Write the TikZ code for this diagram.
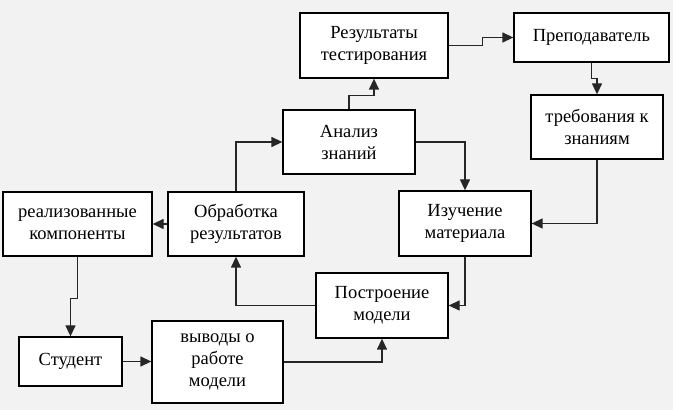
\documentclass[tikz,border=0pt]{standalone}
\usepackage{fontspec}
\setmainfont{Liberation Serif}
\usetikzlibrary{arrows.meta}

\begin{document}
\begin{tikzpicture}[scale=1.000000,x=1pt,y=1pt,
  box/.style={draw=black,fill=white,line width=1.3pt,align=center,inner sep=0pt,
    font=\fontsize{18.5}{22}\selectfont},
  flow/.style={draw=black!85,line width=1.3pt,-{Triangle[length=11pt,width=10pt]}}]
\fill[color=black!5] (0.000000,0.000000) rectangle (673.000000,410.000000);
% Drawing boxes
% Box 1: top row
\node[box,minimum width=148,minimum height=65] (res) at (374.000000,364.500000) {Результаты\\тестирования};
\node[box,minimum width=155,minimum height=49] (prep) at (591.500000,372.500000) {Преподаватель};
% Box 2: knowledge requirements and analysis
\node[box,minimum width=132,minimum height=64] (treb) at (597.000000,283.000000) {требования к\\знаниям};
\node[box,minimum width=132,minimum height=64] (anal) at (349.000000,268.000000) {Анализ\\знаний};
% Box 3: middle row
\node[box,minimum width=132,minimum height=65] (izuch) at (465.000000,186.500000) {Изучение\\материала};
\node[box,minimum width=136,minimum height=64] (obr) at (236.000000,186.000000) {Обработка\\результатов};
\node[box,minimum width=149,minimum height=64] (real) at (77.500000,186.000000) {реализованные\\компоненты};
% Box 4: bottom row
\node[box,minimum width=132,minimum height=65] (postr) at (382.000000,104.500000) {Построение\\модели};
\node[box,minimum width=103,minimum height=49] (stud) at (70.500000,48.500000) {Студент};
\node[box,minimum width=131,minimum height=82] (vyv) at (217.500000,48.000000) {выводы о\\работе\\модели};
% Done with boxes; drawing arrows
\draw[flow] (anal.north) -- ++(0.000000,14.000000) -| (res.south);
\draw[flow] (res.east) -- ++(34.000000,0.000000) |- (prep.west);
\draw[flow] (prep.south) -- ++(0.000000,-16.000000) -| (treb.north);
\draw[flow] (treb.south) |- (izuch.east);
\draw[flow] (anal.east) -| (izuch.north);
\draw[flow] (izuch.south) |- (postr.east);
\draw[flow] (postr.west) -| (obr.south);
\draw[flow] (obr.north) |- (anal.west);
\draw[flow] (obr.west) -- (real.east);
\draw[flow] (real.south) -- ++(0.000000,-42.000000) -| (stud.north);
\draw[flow] (stud.east) -- (stud.east -| vyv.west);
\draw[flow] (vyv.east) -| (postr.south);
% Done with arrows
\end{tikzpicture}
\end{document}
